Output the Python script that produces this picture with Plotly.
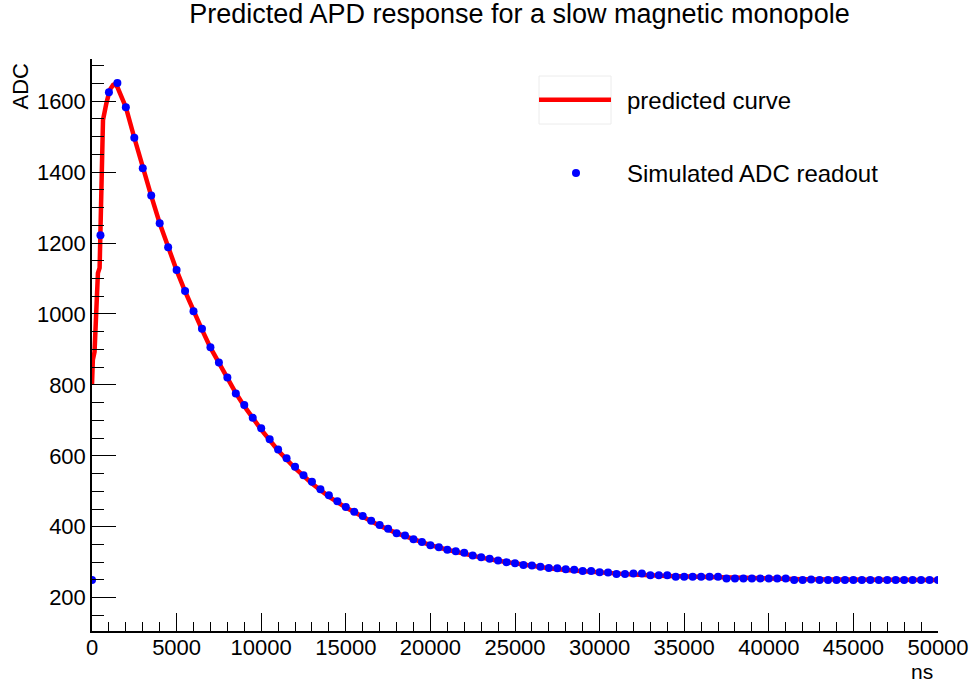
import plotly.graph_objects as go

# ---- data ----
adc_time_ns = [
    0, 500, 1000, 1500, 2000, 2500, 3000, 3500, 4000, 4500,
    5000, 5500, 6000, 6500, 7000, 7500, 8000, 8500, 9000, 9500,
    10000, 10500, 11000, 11500, 12000, 12500, 13000, 13500, 14000, 14500,
    15000, 15500, 16000, 16500, 17000, 17500, 18000, 18500, 19000, 19500,
    20000, 20500, 21000, 21500, 22000, 22500, 23000, 23500, 24000, 24500,
    25000, 25500, 26000, 26500, 27000, 27500, 28000, 28500, 29000, 29500,
    30000, 30500, 31000, 31500, 32000, 32500, 33000, 33500, 34000, 34500,
    35000, 35500, 36000, 36500, 37000, 37500, 38000, 38500, 39000, 39500,
    40000, 40500, 41000, 41500, 42000, 42500, 43000, 43500, 44000, 44500,
    45000, 45500, 46000, 46500, 47000, 47500, 48000, 48500, 49000, 49500,
    50000,
]
adc_values = [
    250, 1222, 1625, 1651, 1583, 1497, 1411, 1334, 1256, 1188,
    1124, 1065, 1008, 958, 906, 863, 821, 776, 743, 707,
    678, 647, 618, 593, 569, 545, 527, 506, 489, 472,
    456, 442, 430, 417, 405, 394, 382, 375, 365, 357,
    348, 342, 335, 331, 327, 319, 314, 310, 305, 300,
    297, 292, 291, 287, 284, 283, 280, 279, 275, 275,
    272, 271, 267, 267, 268, 268, 263, 263, 263, 259,
    259, 259, 259, 259, 259, 254, 254, 254, 254, 254,
    254, 254, 254, 250, 250, 251, 250, 250, 250, 250,
    250, 250, 250, 250, 250, 250, 250, 250, 250, 250,
    250,
]

curve_time_ns = [
    0, 50, 150, 250, 350, 450, 500, 550, 650, 850, 1050, 1250, 1350, 1500,
    2000, 2500, 3000, 3500, 4000, 4500, 5000, 5500, 6000, 6500, 7000, 7500,
    8000, 8500, 9000, 9500, 10000, 11000, 12000, 13000, 14000, 15000, 16000,
    17000, 18000, 19000, 20000, 21000, 22000, 23000, 24000, 25000, 26000,
    27000, 28000, 29000, 30000, 32000, 34000, 36000, 38000, 40000, 42000,
    44000, 46000, 48000, 50000,
]
curve_values = [
    800, 871, 893, 1011, 1115, 1130, 1240, 1472, 1547, 1594, 1632, 1646, 1648, 1640,
    1583, 1497, 1411, 1333, 1256, 1187, 1123, 1064, 1008, 956, 905, 861,
    818, 777, 740, 705, 674, 615, 565, 522, 485, 454, 427,
    403, 382, 364, 348, 335, 323, 313, 304, 296, 289,
    283, 278, 274, 270, 265, 261, 258, 256, 254, 252,
    251, 251, 250, 250,
]

title_text = "Predicted APD response for a slow magnetic monopole"
x_title = "ns"
y_title = "ADC"
legend_labels = ["predicted curve", "Simulated ADC readout"]

FONT = "Liberation Sans, Arial, Helvetica, sans-serif"

fig = go.Figure()
fig.add_trace(go.Scatter(
    x=curve_time_ns, y=curve_values, mode="lines",
    line=dict(color="#ff0000", width=4.5), name=legend_labels[0],
    showlegend=False,
))
fig.add_trace(go.Scatter(
    x=adc_time_ns, y=adc_values, mode="markers",
    marker=dict(color="#0000ff", size=8, symbol="circle"),
    name=legend_labels[1], showlegend=False,
))

# plot area in pixels: x 92..938, y 59..631
L, R, T, B = 92, 36, 59, 52
W, H = 974, 683
pw, ph = W - L - R, H - T - B

def px(xp):
    return (xp - L) / pw

def py(yp):
    return (H - B - yp) / ph

shapes = [
    # legend sample box
    dict(type="rect", xref="paper", yref="paper",
         x0=px(539), x1=px(611), y0=py(124), y1=py(76),
         line=dict(color="#ececec", width=1), fillcolor="rgba(0,0,0,0)"),
    dict(type="line", xref="paper", yref="paper",
         x0=px(539), x1=px(611), y0=py(99.7), y1=py(99.7),
         line=dict(color="#ff0000", width=4.5)),
    dict(type="circle", xref="paper", yref="paper",
         x0=px(572), x1=px(580), y0=py(177), y1=py(169),
         line=dict(color="#0000ff", width=0), fillcolor="#0000ff"),
]

annotations = [
    dict(text=legend_labels[0], xref="paper", yref="paper", x=px(625), y=py(100),
         xanchor="left", yanchor="middle", showarrow=False,
         font=dict(family=FONT, size=24, color="black")),
    dict(text=legend_labels[1], xref="paper", yref="paper", x=px(625), y=py(173),
         xanchor="left", yanchor="middle", showarrow=False,
         font=dict(family=FONT, size=24, color="black")),
    dict(text=y_title, xref="paper", yref="paper", x=px(20), y=py(61),
         xanchor="center", yanchor="top", textangle=-90, showarrow=False,
         font=dict(family=FONT, size=22, color="black")),
    dict(text=x_title, xref="paper", yref="paper", x=px(922), y=py(671),
         xanchor="center", yanchor="middle", showarrow=False, height=20,
         font=dict(family=FONT, size=21, color="black")),
]

fig.update_layout(
    width=W, height=H,
    margin=dict(l=L, r=R, t=T, b=B, autoexpand=False),
    paper_bgcolor="white", plot_bgcolor="white",
    font=dict(family=FONT, color="black"),
    title=dict(text=title_text, x=519.5 / W, xref="container", xanchor="center",
               y=1 - 14 / H, yref="container", yanchor="middle",
               font=dict(family=FONT, size=27, color="black")),
    shapes=shapes, annotations=annotations,
    showlegend=False,
)
fig.update_xaxes(
    range=[0, 50000], showgrid=False, zeroline=False, automargin=False,
    showline=True, linecolor="black", linewidth=1.5,
    ticks="inside", ticklen=18, tickwidth=1.3, tickcolor="black",
    tick0=0, dtick=5000, tickformat="d", ticklabelstandoff=-4,
    tickfont=dict(family=FONT, size=22, color="black"),
    minor=dict(ticks="inside", ticklen=9, tickwidth=1.3, tickcolor="black", dtick=1000),
)
fig.update_yaxes(
    range=[106, 1719], showgrid=False, zeroline=False, automargin=False,
    showline=True, linecolor="black", linewidth=1.5,
    ticks="inside", ticklen=24, tickwidth=1.3, tickcolor="black",
    tick0=0, dtick=200, tickformat="d",
    tickfont=dict(family=FONT, size=22, color="black"),
    minor=dict(ticks="inside", ticklen=12, tickwidth=1.3, tickcolor="black", dtick=50),
)

fig.write_html("out.html")
